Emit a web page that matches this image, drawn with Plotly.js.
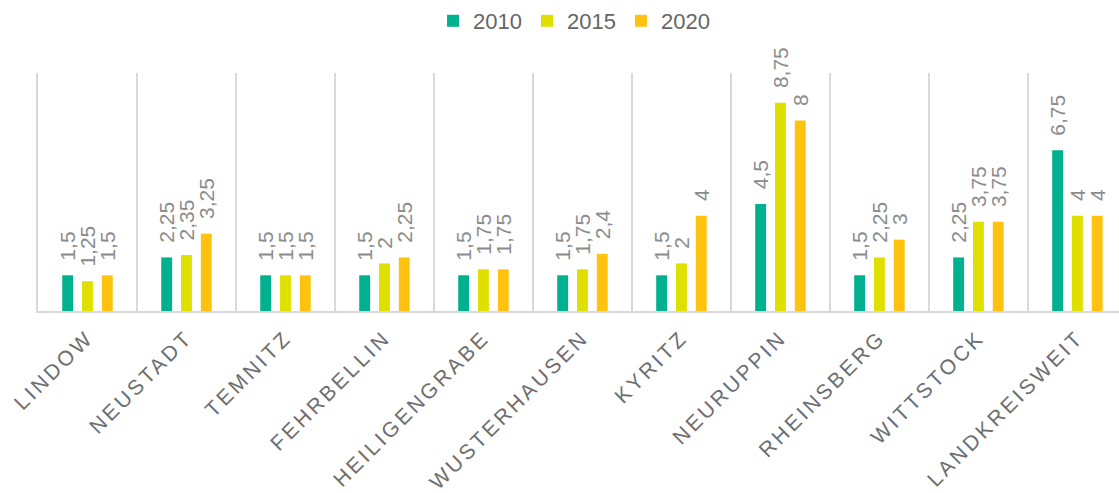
<!DOCTYPE html>
<html>
<head>
<meta charset="utf-8">
<script src="https://cdn.plot.ly/plotly-3.0.1.min.js"></script>
<style>
  html, body { margin: 0; padding: 0; background: #fff; }
  #chart { width: 1119px; height: 493px; }
  .xtick text { letter-spacing: 3px; }
</style>
</head>
<body>
<div id="chart"></div>
<script>
const categories = ["LINDOW", "NEUSTADT", "TEMNITZ", "FEHRBELLIN", "HEILIGENGRABE", "WUSTERHAUSEN", "KYRITZ", "NEURUPPIN", "RHEINSBERG", "WITTSTOCK", "LANDKREISWEIT"];
const seriesNames = ["2010", "2015", "2020"];
const values2010 = [1.5, 2.25, 1.5, 1.5, 1.5, 1.5, 1.5, 4.5, 1.5, 2.25, 6.75];
const values2015 = [1.25, 2.35, 1.5, 2, 1.75, 1.75, 2, 8.75, 2.25, 3.75, 4];
const values2020 = [1.5, 3.25, 1.5, 2.25, 1.75, 2.4, 4, 8, 3, 3.75, 4];
const colors = ["#00B18F", "#E0E000", "#FFC30F"];

const fmt = v => "\u00A0\u00A0" + String(v).replace(".", ",");
const allValues = [values2010, values2015, values2020];

const traces = allValues.map((vals, i) => ({
  type: "bar",
  name: seriesNames[i],
  x: categories,
  y: vals,
  text: vals.map(fmt),
  textposition: "outside",
  textangle: -90,
  constraintext: "none",
  cliponaxis: false,
  textfont: { family: "Liberation Sans, Arial, sans-serif", size: 21, color: "#8c8c8c" },
  marker: { color: colors[i], line: { width: 0 } },
  hoverinfo: "skip"
}));

const layout = {
  width: 1119,
  height: 493,
  margin: { l: 38, r: 0, t: 73, b: 182 },
  paper_bgcolor: "#ffffff",
  plot_bgcolor: "#ffffff",
  font: { family: "Liberation Sans, Arial, sans-serif", color: "#666666" },
  barmode: "group",
  bargap: 0.4,
  bargroupgap: 0.45,
  showlegend: true,
  legend: {
    orientation: "h",
    xref: "container",
    yref: "container",
    x: 0.513,
    xanchor: "center",
    y: 1 - 21 / 493,
    yanchor: "middle",
    font: { size: 22, color: "#666666" },
    itemwidth: 30,
    traceorder: "normal"
  },
  xaxis: {
    type: "category",
    range: [-0.5, 10.42],
    tickson: "boundaries",
    showgrid: true,
    gridcolor: "#d9d9d9",
    gridwidth: 2,
    showline: true,
    linecolor: "#d9d9d9",
    linewidth: 2,
    ticks: "",
    tickangle: -45,
    tickfont: { size: 21, color: "#6e6e6e" },
    ticklabelstandoff: 4,
    zeroline: false
  },
  yaxis: {
    range: [0, 10],
    showgrid: false,
    showticklabels: false,
    ticks: "",
    zeroline: false,
    showline: true,
    linecolor: "#d9d9d9",
    linewidth: 2
  }
};

Plotly.newPlot("chart", traces, layout, { displayModeBar: false, staticPlot: true });
</script>
</body>
</html>
